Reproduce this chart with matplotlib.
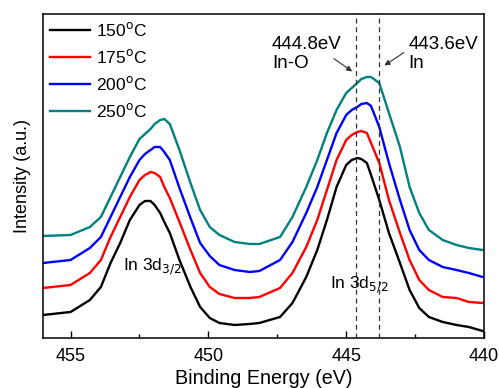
import matplotlib
matplotlib.use("Agg")
import matplotlib.pyplot as plt
from matplotlib.ticker import MultipleLocator

plt.rcParams['font.family'] = ['Liberation Sans', 'DejaVu Sans']

energy = [456.0, 455.0, 454.3, 453.9, 453.55, 453.2, 452.85, 452.5, 452.3, 452.1,
          451.95, 451.75, 451.6, 451.4, 451.05, 450.65, 450.3, 449.95, 449.6, 449.05,
          448.5, 448.15, 447.4, 446.95, 446.45, 446.05, 445.7, 445.35, 445.0, 444.8,
          444.6, 444.45, 444.25, 444.1, 443.8, 443.45, 443.05, 442.7, 442.35, 442.0,
          441.5, 441.0, 440.55, 440.05]

i150 = [23, 26, 38, 51, 75, 95, 118, 133, 137, 137, 133, 125, 116, 105, 78, 51, 31, 20, 15, 13,
        14, 15, 21, 35, 61, 88, 118, 151, 173, 178, 180, 179, 175, 163, 138, 105, 75, 48, 30, 21,
        16, 13, 11, 7]
i175 = [50, 53, 65, 78, 101, 121, 141, 158, 163, 166, 165, 161, 151, 140, 116, 88, 65, 51, 44, 40,
        40, 41, 50, 65, 91, 118, 148, 178, 198, 203, 206, 207, 205, 195, 175, 138, 105, 78, 58, 48,
        41, 40, 36, 35]
i200 = [75, 78, 90, 101, 121, 141, 161, 178, 184, 188, 191, 191, 186, 178, 150, 120, 95, 82, 73, 68,
        66, 67, 78, 96, 125, 151, 178, 205, 223, 228, 231, 234, 235, 232, 211, 175, 138, 108, 88, 78,
        71, 68, 65, 61]
i250 = [102, 103, 111, 121, 141, 161, 181, 199, 204, 209, 214, 218, 219, 214, 188, 155, 128, 111, 103, 96,
        94, 94, 101, 121, 151, 178, 205, 228, 245, 250, 255, 259, 261, 261, 255, 225, 191, 151, 125, 108,
        98, 93, 90, 88]

labels = ["150$^{\\rm o}$C", "175$^{\\rm o}$C", "200$^{\\rm o}$C", "250$^{\\rm o}$C"]
colors = ["black", "#ff0000", "#0000ff", "#008080"]
series = [i150, i175, i200, i250]

ref_lines = [444.65, 443.8]

fig = plt.figure(figsize=(4.99, 3.88), dpi=100)
ax = fig.add_axes([0.0862, 0.1289, 0.8838, 0.835])

for s, c, l in zip(series, colors, labels):
    ax.plot(energy, s, color=c, lw=1.7, label=l, solid_joinstyle='round')

for x in ref_lines:
    ax.axvline(x, color='#333333', ls=(0, (4, 3)), lw=0.9)

ax.set_xlim(456, 440)
ax.set_ylim(0, 324)
ax.set_yticks([])
ax.xaxis.set_major_locator(MultipleLocator(5))
ax.xaxis.set_minor_locator(MultipleLocator(2.5))
ax.tick_params(axis='x', which='major', direction='in', length=5, width=1, labelsize=13, pad=7)
ax.tick_params(axis='x', which='minor', direction='in', length=3, width=1)
for sp in ax.spines.values():
    sp.set_linewidth(1.1)

ax.set_xlabel("Binding Energy (eV)", fontsize=14.2, labelpad=3)
ax.set_ylabel("Intensity (a.u.)", fontsize=13, labelpad=9)

ax.legend(loc='upper left', frameon=False, fontsize=12.5, handlelength=2.3,
          handletextpad=0.35, labelspacing=0.52, borderaxespad=0.0,
          bbox_to_anchor=(0.0, 1.0))

ax.text(453.1, 71, "In 3d$_{3/2}$", fontsize=12.5, ha='left', va='center')
ax.text(445.6, 53, "In 3d$_{5/2}$", fontsize=12.5, ha='left', va='center')

ax.text(447.7, 284, "444.8eV\nIn-O", fontsize=13.5, ha='left', va='center', linespacing=1.15)
ax.text(442.75, 284, "443.6eV\nIn", fontsize=13.5, ha='left', va='center', linespacing=1.15)

ax.annotate("", xy=(444.70, 265), xytext=(445.53, 281),
            arrowprops=dict(arrowstyle='-|>', color='#333333', lw=0.8, mutation_scale=8))
ax.annotate("", xy=(443.70, 271), xytext=(442.82, 287),
            arrowprops=dict(arrowstyle='-|>', color='#333333', lw=0.8, mutation_scale=8))

fig.savefig("out.png", dpi=100)
